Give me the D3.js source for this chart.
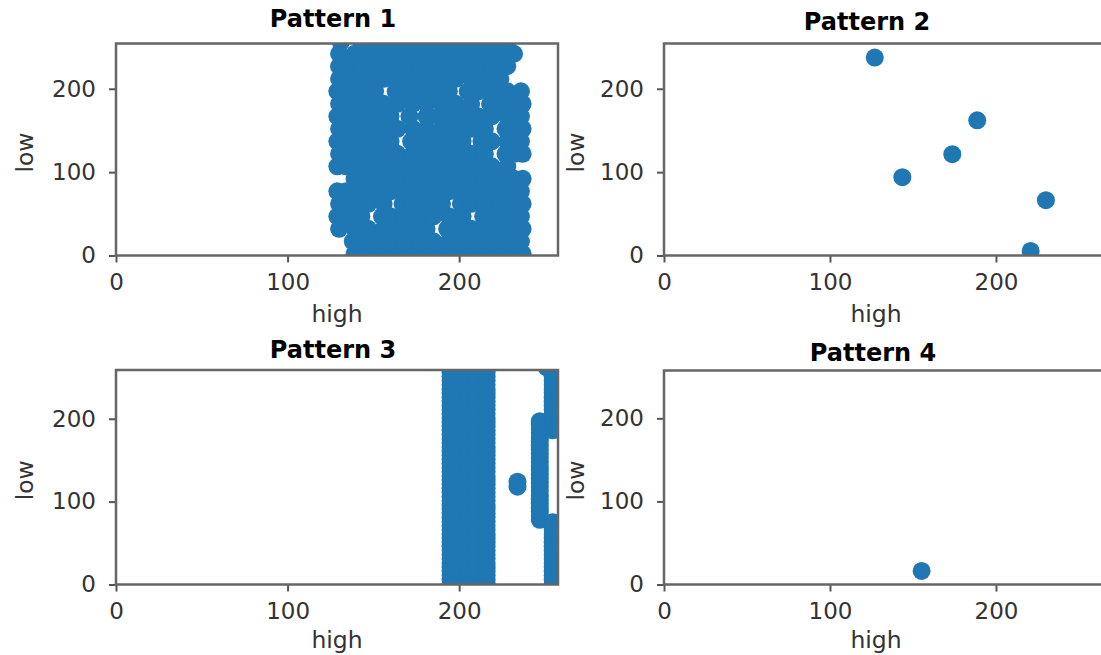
<!DOCTYPE html>
<html>
<head>
<meta charset="utf-8">
<script src="https://cdn.jsdelivr.net/npm/d3@7"></script>
<style>
  html, body { margin: 0; padding: 0; background: #fff; }
  svg { display: block; }
  text { font-family: "DejaVu Sans", sans-serif; }
</style>
</head>
<body>
<svg id="chart" width="1101" height="655"></svg>
<script>
// ---------------- DATA ----------------
const titles = ["Pattern 1", "Pattern 2", "Pattern 3", "Pattern 4"];
const xLabel = "high";
const yLabel = "low";
const xTicks = [0, 100, 200];
const yTicks = [0, 100, 200];

// Pattern 1: dense cloud, rows of [low, [high values]]
const pattern1Rows = [
  [2,   [139,147,156,164,173,181,190,198,207,215,224,232,237]],
  [17,  [138,143,151,160,168,177,185,194,202,211,219,228,236]],
  [32,  [130,139,147,156,164,173,181,193,198,207,215,224,232,237]],
  [47,  [129,134,143,155,160,168,177,185,194,202,214,219,228,236]],
  [62,  [130,139,147,156,167,173,181,190,201,207,215,224,232,237]],
  [77,  [129,134,143,151,160,168,177,185,194,202,211,219,228,236]],
  [92,  [139,147,156,164,173,181,190,198,207,215,224,232,237]],
  [107, [129,134,143,151,160,168,177,185,194,202,211,219,228]],
  [122, [130,139,147,156,164,173,181,190,198,207,215,227,232,237]],
  [137, [129,134,143,151,160,172,177,185,194,202,213,219,228,236]],
  [152, [130,139,147,156,164,173,181,190,198,207,215,227,232,237]],
  [167, [129,134,143,151,160,171,181,188,194,202,211,219,228,236]],
  [182, [130,139,147,156,164,173,181,190,198,207,218,224,232,237]],
  [197, [129,134,143,151,163,168,177,185,194,205,211,219,228,236]],
  [212, [130,139,147,156,164,173,181,190,198,207,215,224]],
  [227, [130,134,143,151,160,168,177,185,194,202,211,219,228]],
  [242, [130,139,147,156,164,173,181,190,198,207,215,224,232]],
  [256, [131,143,151,160,168,177,185,194,202,211,219,228]]
];

// Pattern 2: sparse points
const pattern2High = [127, 143.6, 173.7, 188.7, 230.1, 220.9];
const pattern2Low  = [237.4, 93.9, 121.5, 162.2, 66.3, 5.5];

// Pattern 3: columns of [high, [low values]]
const bandLowDense = [-4,1,6,11,16,21,26,31,36,41,46,51,56,61,66,71,76,81,86,91,96,101,106,111,116,121,126,131,136,141,146,151,156,161,166,171,176,181,186,191,196,201,206,211,216,221,226,231,236,241,246,251,256,261,266];
const bandLow = [-4,6,16,26,36,46,56,66,76,86,96,106,116,126,136,146,156,166,176,186,196,206,216,226,236,246,256,266];
const edgeLowDense = [-4,1,6,11,16,21,26,31,36,41,46,51,56,61,66,71,75,186,191,196,201,206,211,216,221,226,231,236,241,246,251,256,261,266];
const edgeLow = [-4,6,16,26,36,46,56,66,75,186,196,206,216,226,236,246,256,266];
const bulgeLowDense = [78,83,88,93,98,103,108,113,118,123,128,133,138,143,148,153,158,163,168,173,178,183,188,193,197];
const pattern3Columns = [
  [195, bandLowDense], [200, bandLow], [205, bandLow], [210, bandLow], [216, bandLowDense],
  [234, [118, 124]],
  [247, bulgeLowDense],
  [251, [262]],
  [254.5, edgeLowDense], [259, edgeLow]
];

// Pattern 4
const pattern4High = [155.2];
const pattern4Low  = [16.4];

// ---------------- BUILD POINTS ----------------
const p1 = [];
pattern1Rows.forEach(([lo, his]) => his.forEach(h => p1.push({high: h, low: lo})));
const p2 = pattern2High.map((h, i) => ({high: h, low: pattern2Low[i]}));
const p3 = [];
pattern3Columns.forEach(([h, los]) => los.forEach(lo => p3.push({high: h, low: lo})));
const p4 = pattern4High.map((h, i) => ({high: h, low: pattern4Low[i]}));

// ---------------- LAYOUT ----------------
const panels = [
  {data: p1, x0: 116, x1: 558, y0: 43.5, y1: 255.5, xMax: 257.6, yMax: 254.3,
   titleX: 333, titleY: 27, xLabX: 337, yLabX: 33, xLabY: 322},
  {data: p2, x0: 664, x1: 1110, y0: 43.5, y1: 255.5, xMax: 268.7, yMax: 254.3,
   titleX: 867, titleY: 30, xLabX: 876, yLabX: 584, xLabY: 322},
  {data: p3, x0: 116, x1: 558, y0: 370, y1: 584.5, xMax: 257.6, yMax: 258.8,
   titleX: 333, titleY: 358, xLabX: 337, yLabX: 33, xLabY: 648},
  {data: p4, x0: 664, x1: 1110, y0: 370.5, y1: 584.5, xMax: 268.7, yMax: 257.6,
   titleX: 873, titleY: 361, xLabX: 876, yLabX: 584, xLabY: 648}
];

const color = "#1f77b4";
const svg = d3.select("#chart");

panels.forEach((p, i) => {
  const x = d3.scaleLinear().domain([0, p.xMax]).range([p.x0, p.x1]);
  const y = d3.scaleLinear().domain([0, p.yMax]).range([p.y1, p.y0]);
  const g = svg.append("g");

  const clipId = "clip" + i;
  svg.append("clipPath").attr("id", clipId)
    .append("rect").attr("x", p.x0).attr("y", p.y0)
    .attr("width", p.x1 - p.x0).attr("height", p.y1 - p.y0);

  g.append("g").attr("clip-path", `url(#${clipId})`)
    .selectAll("circle").data(p.data).join("circle")
    .attr("cx", d => x(d.high)).attr("cy", d => y(d.low))
    .attr("r", 9).attr("fill", color);

  // axes
  const xa = g.append("g").attr("transform", `translate(0,${p.y1})`)
    .call(d3.axisBottom(x).tickValues(xTicks).tickSize(7).tickPadding(11).tickFormat(d3.format("d")));
  const ya = g.append("g").attr("transform", `translate(${p.x0},0)`)
    .call(d3.axisLeft(y).tickValues(yTicks).tickSize(7).tickPadding(13).tickFormat(d3.format("d")));
  [xa, ya].forEach(a => {
    a.select(".domain").remove();
    a.selectAll(".tick line").attr("stroke", "#555").attr("stroke-width", 2);
    a.selectAll(".tick text").attr("fill", "#333").style("font-size", "23px")
      .style("font-family", "'DejaVu Sans', sans-serif");
  });

  // spines
  g.append("rect").attr("x", p.x0).attr("y", p.y0)
    .attr("width", p.x1 - p.x0).attr("height", p.y1 - p.y0)
    .attr("fill", "none").attr("stroke", "#666").attr("stroke-width", 2.5);

  // title
  g.append("text").attr("x", p.titleX).attr("y", p.titleY)
    .attr("text-anchor", "middle").attr("fill", "#000")
    .style("font-size", "24px").style("font-weight", "bold")
    .text(titles[i]);

  // axis labels
  g.append("text").attr("x", p.xLabX).attr("y", p.xLabY)
    .attr("text-anchor", "middle").attr("fill", "#333")
    .style("font-size", "23.5px").text(xLabel);
  g.append("text")
    .attr("transform", `translate(${p.yLabX},${(p.y0 + p.y1) / 2 + 3}) rotate(-90)`)
    .attr("text-anchor", "middle").attr("fill", "#333")
    .style("font-size", "23.5px").text(yLabel);
});
</script>
</body>
</html>
